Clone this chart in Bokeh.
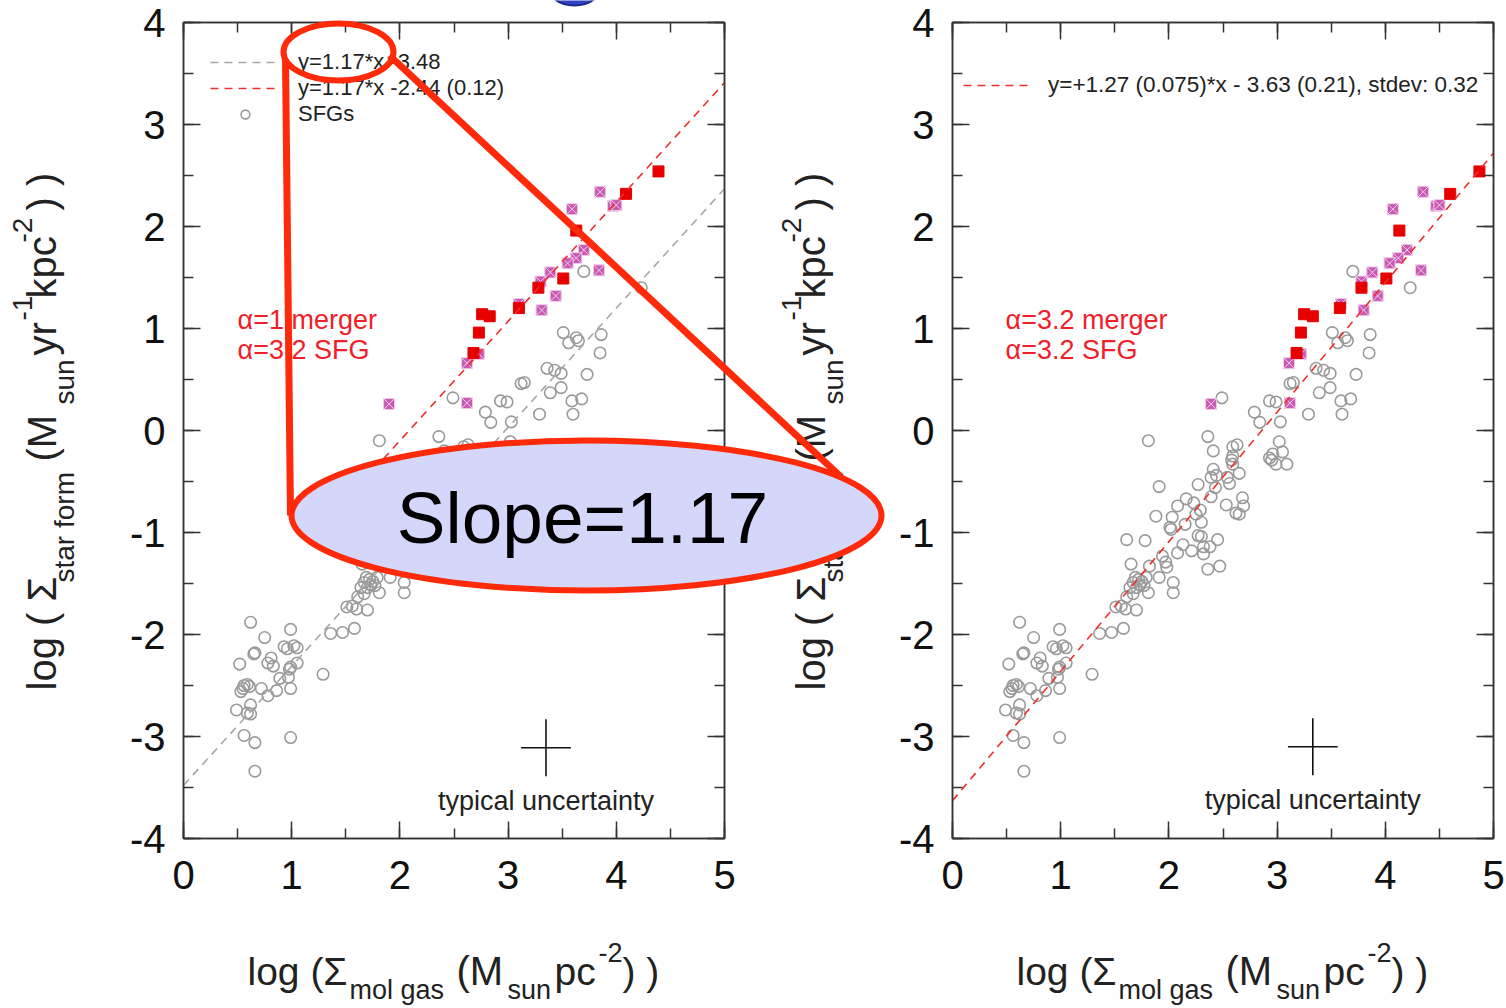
import numpy as np
from math import pi
from bokeh.plotting import figure
from bokeh.models import (Range1d, LinearAxis, SingleIntervalTicker, Legend, LegendItem, Label)
from bokeh.layouts import row, column
from bokeh.embed import file_html
from bokeh.resources import INLINE

# ---------------- data ----------------
# star-forming galaxies: log Sigma_mol gas, log Sigma_SFR (same in both panels)
sfg_x = [3.70, 4.23, 3.51, 3.63, 3.56, 3.65, 3.86, 3.85, 3.36, 3.43, 3.49, 3.73, 3.12, 3.15,
         3.49, 3.39, 2.93, 2.99, 3.59, 3.68, 2.79, 3.29, 3.60, 3.03, 2.84,
         2.49, 2.36, 1.81, 3.02, 2.41, 2.59, 2.63, 3.05, 2.96, 2.93, 2.95, 2.99, 3.09, 2.59,
         2.58, 2.59, 2.41, 2.65, 2.39, 2.44, 2.54, 2.56, 2.43, 2.27, 1.91, 2.39, 2.68, 2.69,
         2.62, 2.65, 2.53, 2.16, 2.08, 2.23, 2.29, 2.25, 1.88, 2.03, 2.01, 2.02, 2.15, 2.30,
         2.27, 2.30, 2.45, 1.61, 1.78, 2.13, 2.21, 2.38, 2.32, 2.08, 2.32, 1.94, 1.97, 1.98,
         2.36, 2.47, 1.65, 1.82, 1.69, 1.72, 1.67, 1.75, 1.73, 1.70, 1.79, 1.77, 1.81, 1.64,
         1.67, 1.91, 2.04, 2.04, 1.61, 1.51, 1.56, 1.60, 1.70, 0.99, 1.36, 1.47, 1.58,
         0.62, 0.75, 0.93, 0.96, 1.02, 1.05, 0.65, 0.66, 0.81, 0.52, 0.78, 0.83, 0.99, 0.98,
         1.05, 1.29, 0.89, 0.97, 0.56, 0.55, 0.59, 0.61, 0.53, 0.72, 0.86, 0.99, 0.78, 0.49,
         0.62, 0.59, 0.62, 0.56, 0.66, 0.99, 0.66]
sfg_y = [1.56, 1.40, 0.96, 0.91, 0.86, 0.88, 0.94, 0.76, 0.61, 0.59, 0.56, 0.55, 0.46, 0.47,
         0.42, 0.37, 0.29, 0.28, 0.29, 0.31, 0.18, 0.16, 0.16, 0.085, 0.08,
         0.32, -0.06, -0.10, -0.11, -0.20, -0.16, -0.14, -0.21, -0.23, -0.27, -0.29, -0.33, -0.33, -0.25,
         -0.29, -0.33, -0.38, -0.42, -0.46, -0.44, -0.46, -0.52, -0.56, -0.53, -0.55, -0.65, -0.66, -0.74,
         -0.81, -0.82, -0.73, -0.67, -0.74, -0.71, -0.78, -0.82, -0.84, -0.85, -0.95, -0.97, -0.92, -0.90,
         -1.03, -1.04, -1.07, -1.07, -1.08, -1.12, -1.18, -1.14, -1.14, -1.20, -1.21, -1.23, -1.29, -1.34,
         -1.36, -1.33, -1.31, -1.33, -1.44, -1.46, -1.49, -1.48, -1.51, -1.54, -1.44, -1.52, -1.59, -1.54,
         -1.60, -1.44, -1.49, -1.59, -1.63, -1.73, -1.72, -1.75, -1.76, -1.95, -1.99, -1.98, -1.94,
         -1.88, -2.03, -2.12, -2.14, -2.11, -2.13, -2.19, -2.18, -2.23, -2.29, -2.28, -2.31, -2.32, -2.34,
         -2.28, -2.39, -2.43, -2.42, -2.50, -2.53, -2.49, -2.51, -2.56, -2.53, -2.55, -2.53, -2.60, -2.74,
         -2.69, -2.77, -2.78, -2.99, -3.06, -3.01, -3.34]

# mergers, filled red squares
red_y = [2.54, 2.32, 1.96, 1.49, 1.40, 1.20, 1.14, 1.12, 0.96, 0.76]
red_x_alpha1 = [4.39, 4.09, 3.63, 3.51, 3.28, 3.10, 2.76, 2.83, 2.73, 2.68]
red_x_alpha32 = [4.87, 4.60, 4.13, 4.01, 3.78, 3.58, 3.25, 3.33, 3.22, 3.18]

# mergers, hatched purple squares
pur_y = [2.34, 2.17, 2.20, 2.21, 1.77, 1.69, 1.64, 1.57, 1.55, 1.46, 1.32, 1.24, 1.18,
         0.75, 0.66, 0.27, 0.26]
pur_x_alpha1 = [3.85, 3.59, 3.97, 4.00, 3.70, 3.63, 3.55, 3.84, 3.39, 3.30, 3.44, 3.10, 3.31,
                2.73, 2.62, 2.62, 1.90]
pur_x_alpha32 = [4.35, 4.07, 4.47, 4.50, 4.20, 4.12, 4.04, 4.33, 3.88, 3.78, 3.93, 3.59, 3.80,
                 3.22, 3.11, 3.12, 2.39]

# fits: (slope, intercept, x_start, x_end)
fit_sfg_left = (1.17, -3.48, 0.0, 5.0)
fit_merger_left = (1.17, -2.44, 1.5, 5.0)
fit_all_right = (1.27, -3.63, 0.0, 5.0)

legend_sfg_fit = "y=1.17*x -3.48"
legend_merger_fit = "y=1.17*x -2.44 (0.12)"
legend_sfg = "SFGs"
legend_right_fit = "y=+1.27 (0.075)*x - 3.63 (0.21), stdev: 0.32"

# typical uncertainty cross: centre and half-sizes (dex)
unc_left = (3.35, -3.11)
unc_right = (3.33, -3.10)
unc_err = (0.23, 0.28)

x_range = (0, 5)
y_range = (-4, 4)
y_tick_text = {-4: "-4", -3: "-3", -2: "-2", -1: "-1"}

# ---------------- layout / styles ----------------
FONT = "Liberation Sans"
INK = "#222222"
AX = "#333333"
RED_TXT = "#f0202a"
OV_RED = "#ff2a0a"
OV_FILL = "#d4d6fa"
FW, FH = 541, 816
TOP, BOT = 22, 170
PAGE_W, PAGE_H = 1506, 1008
PX_PER_Y = FH / (y_range[1] - y_range[0])
BASE_FIX = 0.38          # baseline correction (fraction of font size)


def make_panel(left_b, right_b):
    p = figure(frame_width=FW, frame_height=FH,
               x_range=Range1d(*x_range), y_range=Range1d(*y_range),
               min_border_left=left_b, min_border_right=right_b,
               min_border_top=TOP, min_border_bottom=BOT,
               output_backend="svg", toolbar_location=None)
    p.grid.visible = False
    p.outline_line_color = AX
    p.outline_line_width = 1.5
    p.background_fill_color = "white"
    p.border_fill_color = "white"
    bottom_ax = p.below[0]
    left_ax = p.left[0]
    xt = SingleIntervalTicker(interval=1, num_minor_ticks=2)
    yt = SingleIntervalTicker(interval=1, num_minor_ticks=2)
    bottom_ax.ticker = xt
    left_ax.ticker = yt
    top_ax = LinearAxis(ticker=xt)
    right_ax = LinearAxis(ticker=yt)
    p.add_layout(top_ax, "above")
    p.add_layout(right_ax, "right")
    for ax, lab, so in [(bottom_ax, True, 22), (left_ax, True, 18),
                        (top_ax, False, 0), (right_ax, False, 0)]:
        ax.axis_line_color = AX
        ax.axis_line_width = 1.5
        ax.major_tick_in = 17
        ax.major_tick_out = 0
        ax.minor_tick_in = 10
        ax.minor_tick_out = 0
        ax.major_tick_line_color = AX
        ax.major_tick_line_width = 1.5
        ax.minor_tick_line_color = AX
        ax.minor_tick_line_width = 1.5
        ax.major_label_standoff = so
        if lab:
            ax.major_label_text_font = FONT
            ax.major_label_text_font_size = "40px"
            ax.major_label_text_color = "#111111"
        else:
            ax.major_label_text_font_size = "0px"
            ax.major_label_text_alpha = 0
    left_ax.major_label_overrides = y_tick_text
    return p


def add_label(p, text, x, y, size, color=INK, angle=0.0, align="left", level="annotation"):
    p.add_layout(Label(x=x, y=y, text=text, text_font=FONT, text_font_size=f"{size}px",
                       text_color=color, angle=angle, text_align=align,
                       text_baseline="alphabetic", level=level))


def add_data_label(p, text, x, y_base, size, color=INK, align="left"):
    # y_base: data y of the text baseline
    add_label(p, text, x, y_base + BASE_FIX * size / PX_PER_Y, size, color=color, align=align)


def fit_line(p, fit, color):
    s, b, x0, x1 = fit
    return p.line([x0, x1], [s * x0 + b, s * x1 + b], line_color=color,
                  line_dash="8 6", line_width=1.6)


def draw_data(p, red_x, pur_x):
    sfg = p.scatter(sfg_x, sfg_y, marker="circle", size=11.5, fill_color=None,
                    line_color="#9a9a9a", line_width=1.6)
    p.scatter(pur_x, pur_y, marker="square_x", size=11, fill_color="#c85ab4",
              line_color="#f0cce8", line_width=1.0)
    p.scatter(red_x, red_y, marker="square", size=11, fill_color="#e60000",
              line_color="#e60000")
    return sfg


def draw_uncert(p, centre):
    cx, cy = centre
    ex, ey = unc_err
    p.segment(x0=[cx - ex, cx], y0=[cy, cy - ey], x1=[cx + ex, cx], y1=[cy, cy + ey],
              line_color="#111111", line_width=1.6)
    add_data_label(p, "typical uncertainty", cx, cy - 0.62, 27, align="center")


# ---------------- left panel ----------------
p1 = make_panel(183, 56)
sfg1 = draw_data(p1, red_x_alpha1, pur_x_alpha1)
g1 = fit_line(p1, fit_sfg_left, "#a6a6a6")
r1 = fit_line(p1, fit_merger_left, "#ee3030")
leg1 = Legend(items=[LegendItem(label=legend_sfg_fit, renderers=[g1]),
                     LegendItem(label=legend_merger_fit, renderers=[r1]),
                     LegendItem(label=legend_sfg, renderers=[sfg1])],
              location="top_left", margin=27, padding=0, spacing=0,
              glyph_width=70, glyph_height=22, label_height=22, label_standoff=18,
              label_text_font=FONT, label_text_font_size="22px", label_text_color=INK,
              border_line_color=None, background_fill_alpha=0)
p1.add_layout(leg1)
add_data_label(p1, "α=1 merger", 0.50, 0.985, 27, color=RED_TXT)
add_data_label(p1, "α=3.2 SFG", 0.50, 0.69, 27, color=RED_TXT)
draw_uncert(p1, unc_left)

# ---------------- right panel ----------------
p2 = make_panel(172, 13)
draw_data(p2, red_x_alpha32, pur_x_alpha32)
r2 = fit_line(p2, fit_all_right, "#ee3030")
leg2 = Legend(items=[LegendItem(label=legend_right_fit, renderers=[r2])],
              location=(11, 740), margin=0, padding=0, spacing=0,
              glyph_width=67, glyph_height=22, label_height=22, label_standoff=18,
              label_text_font=FONT, label_text_font_size="22.5px", label_text_color=INK,
              border_line_color=None, background_fill_alpha=0)
p2.add_layout(leg2)
add_data_label(p2, "α=3.2 merger", 0.49, 0.985, 27, color=RED_TXT)
add_data_label(p2, "α=3.2 SFG", 0.49, 0.69, 27, color=RED_TXT)
draw_uncert(p2, unc_right)

# ---------------- page overlay (axis titles + slope call-out), page pixel coords ----------------
ov = figure(width=PAGE_W, height=PAGE_H, x_range=Range1d(0, PAGE_W), y_range=Range1d(PAGE_H, 0),
            x_axis_type=None, y_axis_type=None, min_border=0,
            output_backend="svg", toolbar_location=None, margin=(-PAGE_H, 0, 0, 0))
ov.grid.visible = False
ov.outline_line_color = None
ov.background_fill_alpha = 0
ov.border_fill_alpha = 0

# axis titles (text, x, baseline, size), measured on the left panel;
# right panel is shifted by the panel offset
X_TITLE = [("log (Σ", 247, 986, 39), ("mol gas", 349, 1000, 27), ("(M", 456, 986, 40),
           ("sun", 507, 1000, 27), ("pc", 554, 986, 39), ("-2", 598, 962, 27),
           (") )", 622, 986, 39)]
Y_TITLE = [("log ( Σ", 57, 690, 40), ("star form", 75, 582, 28), ("(M", 57, 461, 40),
           ("sun", 75, 404, 28), ("yr", 57, 355, 40), ("-1", 33, 320, 28),
           ("kpc", 57, 298, 40), ("-2", 33, 242, 28), (") )", 57, 210, 40)]
for dx in (0, 952 - 183):
    for t, px, py, s in X_TITLE:
        add_label(ov, t, px + dx, py - BASE_FIX * s, s, level="underlay")
    for t, px, py, s in Y_TITLE:
        add_label(ov, t, px + dx - BASE_FIX * s, py, s, angle=pi / 2, level="underlay")

# call-out: blue bubble edge at the top, connectors, small ellipse, big ellipse, text
ov.ellipse(x=[574], y=[-18], width=[58], height=[46], fill_color="#2f44c4",
           line_color="#1c2a8a", line_width=2)
CONNECTORS = [(285, 59, 290, 515), (389, 55, 840, 476)]
for x0, y0, x1, y1 in CONNECTORS:
    ov.line([x0, x1], [y0, y1], line_color=OV_RED, line_width=7)
ov.ellipse(x=[338], y=[51.5], width=[110], height=[57], fill_color=None,
           line_color=OV_RED, line_width=6)
ov.ellipse(x=[586], y=[515], width=[590], height=[150], fill_color=OV_FILL,
           line_color=OV_RED, line_width=6)
add_label(ov, "Slope=1.17", 582, 545 - BASE_FIX * 73, 73, color="#000000", align="center")

layout = column(row(p1, p2, spacing=0), ov, spacing=0)
open("out.html", "w").write(file_html(layout, INLINE))
